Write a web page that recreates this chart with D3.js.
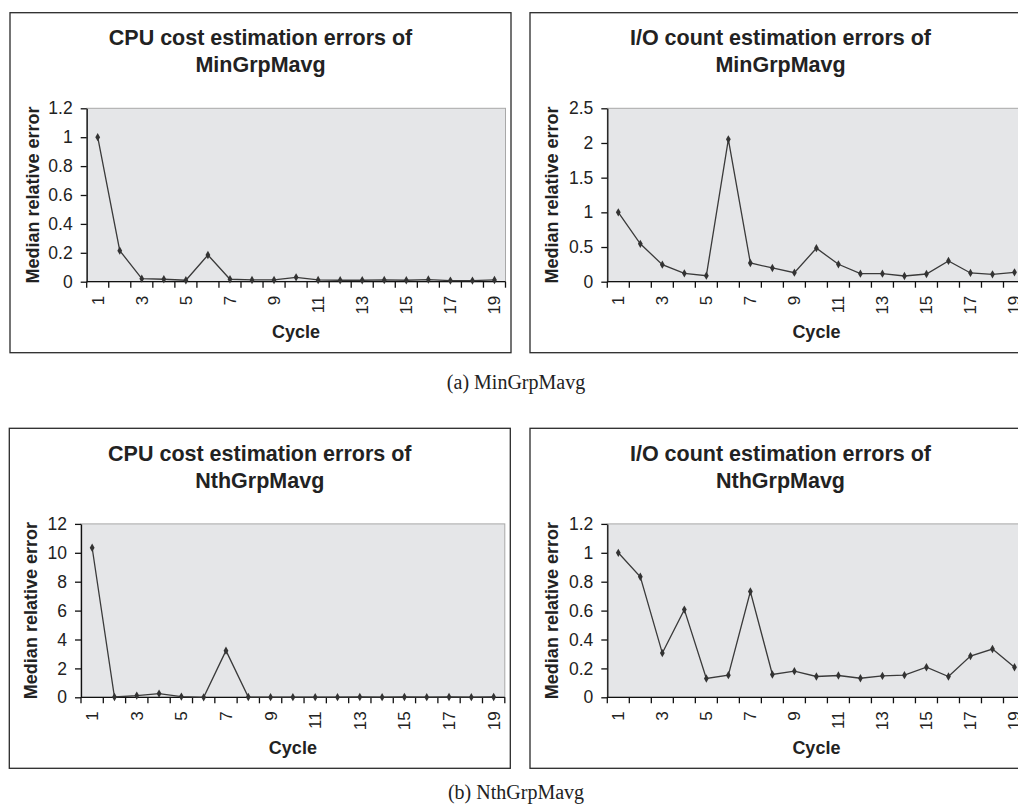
<!DOCTYPE html>
<html>
<head>
<meta charset="utf-8">
<script src="https://cdn.jsdelivr.net/npm/d3@7"></script>
<style>
  body { margin: 0; background: #fff; overflow: hidden; }
  svg { display: block; }
</style>
</head>
<body>
<div id="chart"></div>
<script>
// 1: DATA
const cycles = [1, 2, 3, 4, 5, 6, 7, 8, 9, 10, 11, 12, 13, 14, 15, 16, 17, 18, 19];
const cycleLabels = [1, 3, 5, 7, 9, 11, 13, 15, 17, 19];

const cpuMin = [1.0, 0.215, 0.021, 0.017, 0.01, 0.185, 0.017, 0.012, 0.012, 0.03,
                0.012, 0.01, 0.01, 0.012, 0.01, 0.015, 0.008, 0.008, 0.012];
const ioMin  = [1.0, 0.546, 0.246, 0.121, 0.087, 2.053, 0.27, 0.198, 0.13, 0.483,
                0.251, 0.116, 0.116, 0.082, 0.111, 0.3, 0.126, 0.106, 0.135];
const cpuNth = [10.35, 0.02, 0.12, 0.26, 0.05, 0.0, 3.23, 0.02, 0.01, 0.01,
                0.01, 0.01, 0.02, 0.01, 0.02, 0.01, 0.02, 0.01, 0.02];
const ioNth  = [1.0, 0.834, 0.306, 0.607, 0.13, 0.153, 0.732, 0.158, 0.181, 0.144,
                0.151, 0.132, 0.148, 0.153, 0.208, 0.144, 0.285, 0.334, 0.208];

const ticksCpuMin = [0, 0.2, 0.4, 0.6, 0.8, 1, 1.2];
const ticksIoMin  = [0, 0.5, 1, 1.5, 2, 2.5];
const ticksCpuNth = [0, 2, 4, 6, 8, 10, 12];
const ticksIoNth  = [0, 0.2, 0.4, 0.6, 0.8, 1, 1.2];

const captions = ["(a) MinGrpMavg", "(b) NthGrpMavg"];

// 2: LAYOUT
const W = 1018, H = 806;
const boxW = 501, boxH = 340;

const panels = [
  { title: ["CPU cost estimation errors of", "MinGrpMavg"], values: cpuMin, ticks: ticksCpuMin, bx: 10, by: 12.7, plotLeft: 76.7, yLab: 23 },
  { title: ["I/O count estimation errors of", "MinGrpMavg"], values: ioMin, ticks: ticksIoMin, bx: 530, by: 12.7, plotLeft: 77.3, yLab: 21.7 },
  { title: ["CPU cost estimation errors of", "NthGrpMavg"], values: cpuNth, ticks: ticksCpuNth, bx: 9.3, by: 428.3, plotLeft: 71.7, yLab: 21 },
  { title: ["I/O count estimation errors of", "NthGrpMavg"], values: ioNth, ticks: ticksIoNth, bx: 530, by: 428.3, plotLeft: 77.3, yLab: 21.7 }
];

const svg = d3.select("#chart")
  .append("svg")
  .attr("width", W)
  .attr("height", H);

const font = "Arial, 'Liberation Sans', Helvetica, sans-serif";

panels.forEach(p => {
  const g = svg.append("g").attr("transform", `translate(${p.bx},${p.by})`);

  // outer box
  g.append("rect")
    .attr("x", 0).attr("y", 0)
    .attr("width", boxW).attr("height", boxH)
    .attr("fill", "#fff")
    .attr("stroke", "#2a2a2a")
    .attr("stroke-width", 1.3);

  // title
  g.append("text")
    .attr("x", boxW / 2)
    .attr("text-anchor", "middle")
    .style("font-family", font)
    .style("font-weight", "bold")
    .style("font-size", "21.5px")
    .style("fill", "#222")
    .selectAll("tspan")
    .data(p.title)
    .enter().append("tspan")
    .attr("x", boxW / 2)
    .attr("y", (d, i) => 32.3 + i * 27)
    .text(d => d);

  const top = 95.6, bottom = 269, left = p.plotLeft, right = 495.5;

  const x = d3.scaleBand()
    .domain(cycles)
    .range([left, right]);

  const y = d3.scaleLinear()
    .domain([0, d3.max(p.ticks)])
    .range([bottom, top]);

  // plot area
  g.append("rect")
    .attr("x", left).attr("y", top)
    .attr("width", right - left).attr("height", bottom - top)
    .attr("fill", "#e5e6e8")
    .attr("stroke", "#a8a8a8")
    .attr("stroke-width", 1);

  // y axis
  const yAxis = g.append("g")
    .attr("transform", `translate(${left},0)`)
    .call(d3.axisLeft(y).tickValues(p.ticks).tickFormat(d => d).tickSize(6).tickPadding(8).tickSizeOuter(0));
  yAxis.select(".domain").attr("stroke", "#111").attr("stroke-width", 1.3);
  yAxis.selectAll(".tick line").attr("stroke", "#111").attr("stroke-width", 1.3);
  yAxis.selectAll(".tick text")
    .style("font-family", font)
    .style("font-size", "17.5px")
    .style("fill", "#222");

  // x axis: ticks at category boundaries
  const bounds = cycles.map(c => x(c)).concat([right]);
  g.append("g")
    .selectAll("line")
    .data(bounds)
    .enter().append("line")
    .attr("x1", d => d).attr("x2", d => d)
    .attr("y1", bottom).attr("y2", bottom + 6)
    .attr("stroke", "#111").attr("stroke-width", 1.3);
  g.append("line")
    .attr("x1", left).attr("x2", right)
    .attr("y1", bottom).attr("y2", bottom)
    .attr("stroke", "#111").attr("stroke-width", 1.3);

  g.append("g")
    .selectAll("text")
    .data(cycleLabels)
    .enter().append("text")
    .attr("transform", d => `translate(${x(d) + x.bandwidth() / 2},${bottom + 14}) rotate(-90)`)
    .attr("text-anchor", "end")
    .attr("dy", "0.35em")
    .style("font-family", font)
    .style("font-size", "17px")
    .style("fill", "#222")
    .text(d => d);

  // axis labels
  g.append("text")
    .attr("x", left + (right - left) / 2)
    .attr("y", 325.5)
    .attr("text-anchor", "middle")
    .style("font-family", font)
    .style("font-weight", "bold")
    .style("font-size", "18px")
    .style("fill", "#222")
    .text("Cycle");

  g.append("text")
    .attr("transform", `translate(${p.yLab},${(top + bottom) / 2}) rotate(-90)`)
    .attr("text-anchor", "middle")
    .attr("dy", "0.35em")
    .style("font-family", font)
    .style("font-weight", "bold")
    .style("font-size", "18px")
    .style("fill", "#222")
    .text("Median relative error");

  // line + markers
  const pts = cycles.map((c, i) => ({ c, v: p.values[i] }));
  const line = d3.line()
    .x(d => x(d.c) + x.bandwidth() / 2)
    .y(d => y(d.v));

  g.append("path")
    .datum(pts)
    .attr("d", line)
    .attr("fill", "none")
    .attr("stroke", "#3a3a3a")
    .attr("stroke-width", 1.3);

  g.selectAll(".pt")
    .data(pts)
    .enter().append("path")
    .attr("class", "pt")
    .attr("transform", d => `translate(${x(d.c) + x.bandwidth() / 2},${y(d.v)})`)
    .attr("d", d3.symbol(d3.symbolDiamond).size(20))
    .attr("fill", "#333");
});

// captions
svg.selectAll(".caption")
  .data(captions)
  .enter().append("text")
  .attr("class", "caption")
  .attr("x", 516)
  .attr("y", (d, i) => i === 0 ? 389 : 799)
  .attr("text-anchor", "middle")
  .style("font-family", "'Liberation Serif', 'Times New Roman', serif")
  .style("font-size", "20px")
  .style("fill", "#222")
  .text(d => d);
</script>
</body>
</html>
